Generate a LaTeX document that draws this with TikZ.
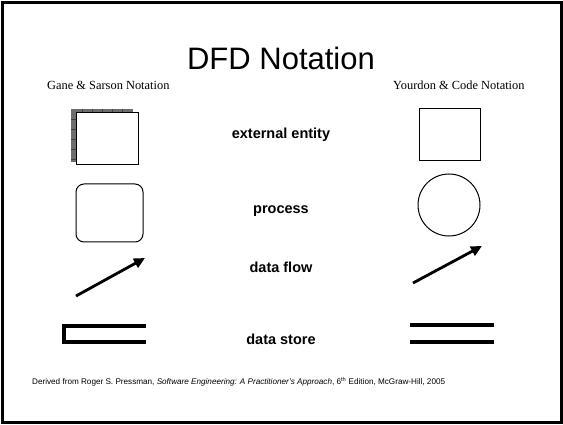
\documentclass[tikz,border=0pt]{standalone}
\usepackage{fontspec}
\setmainfont{Liberation Serif}
\setsansfont{Liberation Sans}
\usetikzlibrary{arrows.meta}
\tikzset{
  shp/.style={draw=black, line width=1pt, fill=white},
  lbl/.style={font=\sffamily\bfseries\fontsize{14.5}{17}\selectfont, anchor=center},
  flowline/.style={line width=2.8pt, -{Triangle[length=11pt,width=10pt]}},
  storeline/.style={line width=3.2pt},
  heading/.style={font=\fontsize{12.4}{14}\selectfont, anchor=base west, inner sep=0pt}
}
\begin{document}
\begin{tikzpicture}[x=1pt,y=-1pt]
\useasboundingbox (0,0) rectangle (563,425);
% slide frame
\draw[line width=2.5pt] (2.5,2.5) rectangle (561.5,422.5);

% title and column headings
\node[font=\sffamily\fontsize{31}{36}\selectfont] (title) at (281,58) {DFD Notation};
\node[heading] (gs) at (47,90) {Gane \& Sarson Notation};
\node[heading] (yc) at (393,90) {Yourdon \& Code Notation};

% Gane & Sarson: external entity with hatched shadow
\begin{scope}
  \clip (71,109) rectangle (133,162);
  \fill[gray!85!black] (71,109) rectangle (133,162);
  \foreach \xx in {82,92,102,112,122} \draw[black!75, line width=0.8pt] (\xx,109) -- (\xx,113);
  \foreach \yy in {119,129,139,149,159} \draw[black!75, line width=0.8pt] (71,\yy) -- (76,\yy);
\end{scope}
\node[shp, minimum width=62pt, minimum height=52pt, inner sep=0pt] (gsent) at (107,139) {};

% Gane & Sarson: process
\node[shp, rounded corners=8pt, minimum width=67pt, minimum height=58pt, inner sep=0pt] (gsproc) at (109.5,213) {};

% Gane & Sarson: data flow
\coordinate (gsf1) at (76,296);
\coordinate (gsf2) at (145,258);
\draw[flowline] (gsf1) -- (gsf2);

% Gane & Sarson: data store
\coordinate (gss1) at (146,326);
\coordinate (gss2) at (146,342);
\draw[storeline] (gss1) -- (64,326) -- (64,342) -- (gss2);

% Yourdon & Code symbols
\node[shp, minimum width=61pt, minimum height=52pt, inner sep=0pt] (ycent) at (449.5,135) {};
\node[shp, circle, minimum size=62pt, inner sep=0pt] (ycproc) at (449,205) {};
\coordinate (ycf1) at (413,283);
\coordinate (ycf2) at (482,246);
\draw[flowline] (ycf1) -- (ycf2);
\coordinate (ycs1) at (410,325);
\coordinate (ycs2) at (494,325);
\coordinate (ycs3) at (410,342);
\coordinate (ycs4) at (494,342);
\draw[storeline] (ycs1) -- (ycs2);
\draw[storeline] (ycs3) -- (ycs4);

% labels
\node[lbl] (lent) at (281,135) {external entity};
\node[lbl] (lproc) at (281,211) {process};
\node[lbl] (lflow) at (281,267) {data flow};
\node[lbl] (lstore) at (281,339) {data store};

% source note
\node[font=\sffamily\fontsize{8.15}{10}\selectfont, anchor=base west, inner sep=0pt] (src) at (32,384)
  {Derived from Roger S. Pressman, \textit{Software Engineering: A Practitioner's Approach}, 6\textsuperscript{th} Edition, McGraw-Hill, 2005};
\end{tikzpicture}
\end{document}
